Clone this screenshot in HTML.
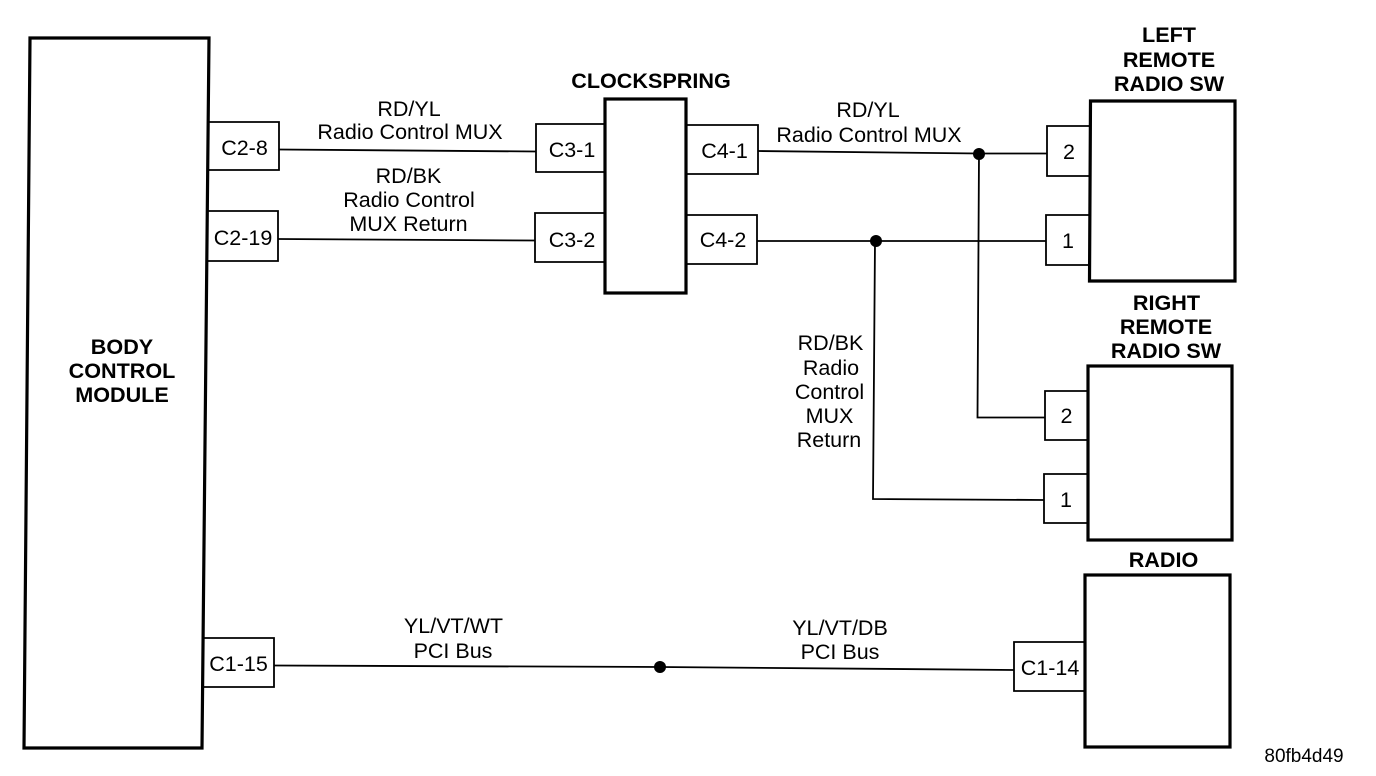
<!DOCTYPE html>
<html><head><meta charset="utf-8"><style>
html,body{margin:0;padding:0;background:#fff;width:1376px;height:776px;overflow:hidden}
svg{display:block}
text{font-family:"Liberation Sans",sans-serif;font-size:21.5px;fill:#000;text-anchor:middle}
.b{font-weight:bold;font-size:21.6px}
.s{font-size:19px}
</style></head><body>
<svg width="1376" height="776" viewBox="0 0 1376 776">
<g fill="none" stroke="#000">
<!-- Main boxes -->
<path stroke-width="3.2" d="M30 38L209 38L202 748L24 748Z"/>
<rect x="605" y="99" width="81" height="194" stroke-width="3.2"/>
<path stroke-width="3.2" d="M1090.5 101H1235V281H1089.5Z"/>
<rect x="1088" y="366" width="144" height="174" stroke-width="3.2"/>
<rect x="1085" y="575" width="145" height="172" stroke-width="3.2"/>
<!-- Connector boxes -->
<g stroke-width="1.8">
<path d="M208 122H279V170H208"/>
<path d="M208 211H278V261H208"/>
<path d="M203 638H274V687H203"/>
<path d="M605 124H536V172H605"/>
<path d="M605 213H535V262H605"/>
<path d="M686 125H758V174H686"/>
<path d="M686 215H757V264H686"/>
<path d="M1090 126H1047V176H1090"/>
<path d="M1090 215H1046V265H1090"/>
<path d="M1088 391H1045V440H1088"/>
<path d="M1088 474H1044V523H1088"/>
<path d="M1085 642H1014V691H1085"/>
<!-- Wires -->
<path d="M279 149.5L536 151.5"/>
<path d="M278 239L535 240.5"/>
<path d="M758 151L979 153.5H1047"/>
<path d="M757 241L876 241L1046 241"/>
<path d="M979 153L977.5 417.5H1045"/>
<path d="M875 241L873 499L1044 500"/>
<path d="M274 665.5L660 667L1014 670"/>
</g>
</g>
<!-- Junctions -->
<circle cx="979" cy="154" r="6" fill="#000"/>
<circle cx="876" cy="241" r="6" fill="#000"/>
<circle cx="660" cy="667" r="6" fill="#000"/>
<!-- Block labels -->
<text class="b" x="122" y="354">BODY</text>
<text class="b" x="122" y="378">CONTROL</text>
<text class="b" x="122" y="402">MODULE</text>
<text class="b" x="651" y="88">CLOCKSPRING</text>
<text class="b" x="1169" y="42">LEFT</text>
<text class="b" x="1169" y="67">REMOTE</text>
<text class="b" x="1169" y="91">RADIO SW</text>
<text class="b" x="1166.5" y="310">RIGHT</text>
<text class="b" x="1166" y="334">REMOTE</text>
<text class="b" x="1166" y="358">RADIO SW</text>
<text class="b" x="1163.5" y="567">RADIO</text>
<!-- Pin labels -->
<text x="244.5" y="155">C2-8</text>
<text x="243" y="245">C2-19</text>
<text x="238.5" y="671">C1-15</text>
<text x="572" y="157">C3-1</text>
<text x="572" y="247">C3-2</text>
<text x="724.5" y="158">C4-1</text>
<text x="723" y="247">C4-2</text>
<text x="1069" y="159">2</text>
<text x="1068" y="248">1</text>
<text x="1066.5" y="423">2</text>
<text x="1066" y="507">1</text>
<text x="1050" y="675">C1-14</text>
<!-- Wire labels -->
<text x="409" y="116">RD/YL</text>
<text x="410" y="139">Radio Control MUX</text>
<text x="408.5" y="183">RD/BK</text>
<text x="409" y="207">Radio Control</text>
<text x="408.5" y="231">MUX Return</text>
<text x="868" y="117">RD/YL</text>
<text x="869" y="142">Radio Control MUX</text>
<text x="830.5" y="350">RD/BK</text>
<text x="831" y="375">Radio</text>
<text x="829.5" y="399">Control</text>
<text x="829.5" y="423">MUX</text>
<text x="829" y="447">Return</text>
<text x="453.5" y="633">YL/VT/WT</text>
<text x="453" y="658">PCI Bus</text>
<text x="840" y="635">YL/VT/DB</text>
<text x="840" y="659">PCI Bus</text>
<text class="s" x="1304" y="762">80fb4d49</text>
</svg>
</body></html>
